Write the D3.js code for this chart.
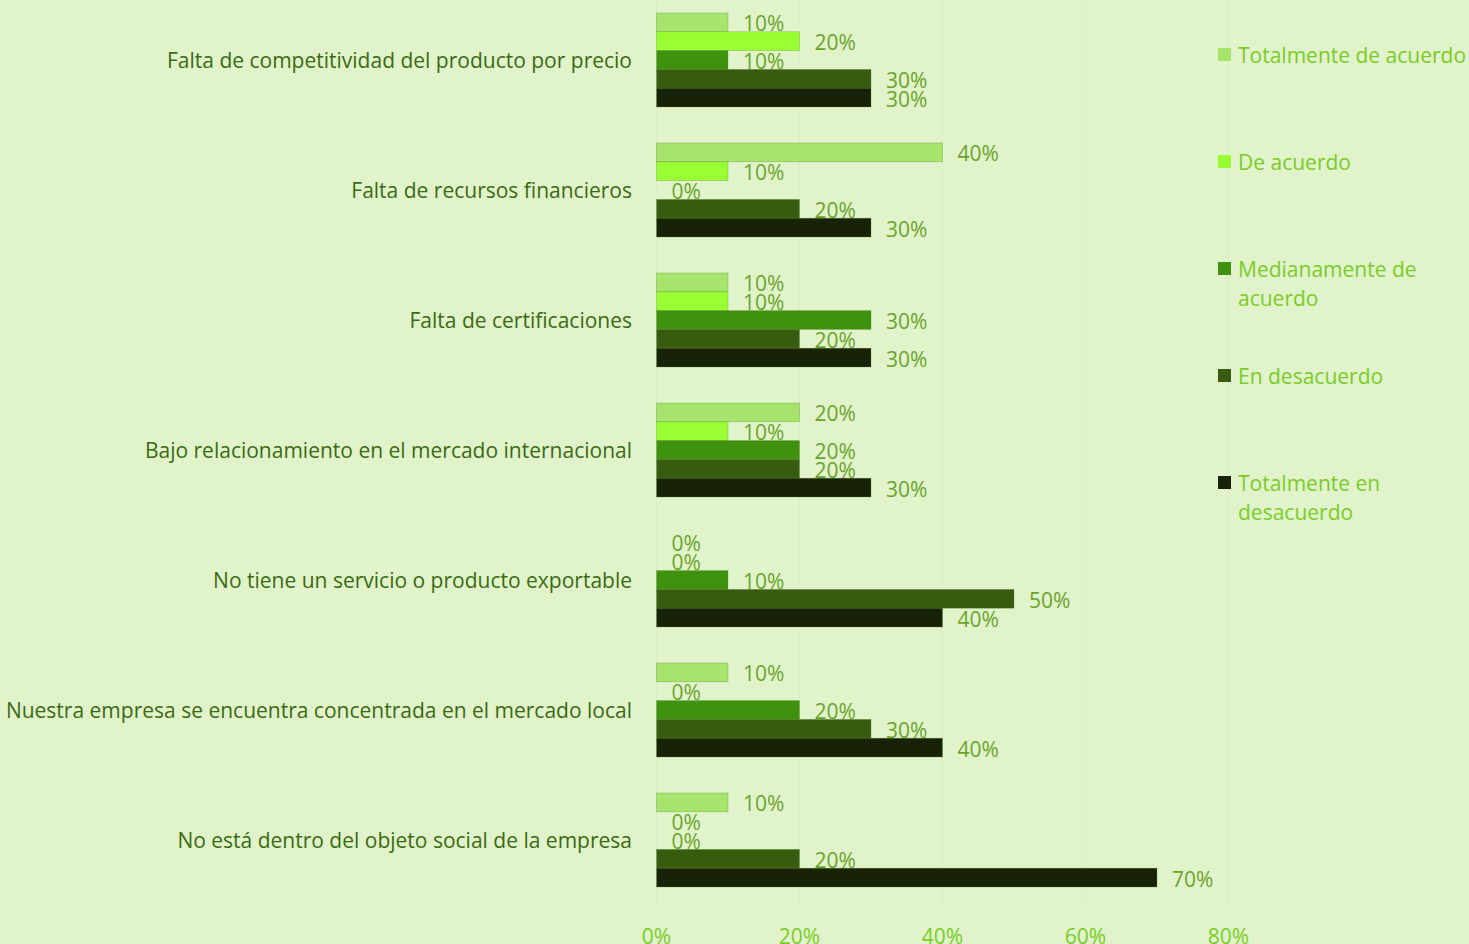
<!DOCTYPE html>
<html><head><meta charset="utf-8">
<script src="https://cdn.jsdelivr.net/npm/d3@7"></script>
<style>
html,body{margin:0;padding:0;background:#E0F3CA;}
svg{display:block;font-family:"Open Sans","Noto Sans",sans-serif;}
</style></head><body>
<svg id="chart" width="1469" height="944"></svg>
<script>
const categories = [
  "Falta de competitividad del producto por precio",
  "Falta de recursos financieros",
  "Falta de certificaciones",
  "Bajo relacionamiento en el mercado internacional",
  "No tiene un servicio o producto exportable",
  "Nuestra empresa se encuentra concentrada en el mercado local",
  "No está dentro del objeto social de la empresa"
];
const seriesNames = ["Totalmente de acuerdo","De acuerdo","Medianamente de acuerdo","En desacuerdo","Totalmente en desacuerdo"];
const legendLines = [["Totalmente de acuerdo"],["De acuerdo"],["Medianamente de","acuerdo"],["En desacuerdo"],["Totalmente en","desacuerdo"]];
const totalmenteDeAcuerdo = [10,40,10,20,0,10,10];
const deAcuerdo = [20,10,10,10,0,0,0];
const medianamenteDeAcuerdo = [10,0,30,20,10,20,0];
const enDesacuerdo = [30,20,20,20,50,30,20];
const totalmenteEnDesacuerdo = [30,30,30,30,40,40,70];
const seriesValues = [totalmenteDeAcuerdo,deAcuerdo,medianamenteDeAcuerdo,enDesacuerdo,totalmenteEnDesacuerdo];
const xTicks = [0,20,40,60,80];
const colors = ["#A6E46C","#99FF33","#3F920D","#375C10","#172206"];

const svg = d3.select("#chart");
const x = d3.scaleLinear().domain([0,80]).range([656.5,1228.5]);
const y = d3.scaleBand().domain(categories).range([-5,905]).paddingInner(0.277).paddingOuter(0.1385);
const ySub = d3.scaleBand().domain(seriesNames).range([0,y.bandwidth()]);

// gridlines
svg.append("g").selectAll("line").data(xTicks).join("line")
  .attr("x1",d=>x(d)).attr("x2",d=>x(d)).attr("y1",-5).attr("y2",905)
  .attr("stroke","#DAEEC4").attr("stroke-width",1);

const groups = svg.append("g").selectAll("g").data(categories).join("g")
  .attr("transform",c=>`translate(0,${y(c)})`);

groups.each(function(c,i){
  const g = d3.select(this);
  seriesNames.forEach((s,j)=>{
    const v = seriesValues[j][i];
    if(v>0){
      g.append("rect").attr("x",x(0)).attr("y",ySub(s)).attr("width",x(v)-x(0)).attr("height",ySub.bandwidth())
        .attr("fill",colors[j]).attr("stroke","#5A8A30").attr("stroke-width",0.6).attr("stroke-opacity",0.5);
    }
    g.append("text").attr("x",x(v)+15).attr("y",ySub(s)+ySub.bandwidth()/2+1)
      .attr("dominant-baseline","central").attr("font-size",21).attr("fill","#6AA52A")
      .text(v+"%");
  });
});

// category labels
svg.append("g").selectAll("text").data(categories).join("text")
  .attr("x",632).attr("y",c=>y(c)+y.bandwidth()/2).attr("text-anchor","end")
  .attr("dominant-baseline","central").attr("font-size",21).attr("fill","#3A6B12").text(c=>c);

// x axis labels
svg.append("g").selectAll("text").data(xTicks).join("text")
  .attr("x",d=>x(d)).attr("y",936).attr("text-anchor","middle").attr("dominant-baseline","central")
  .attr("font-size",21).attr("fill","#7ACC26").text(d=>d+"%");

// legend
const legendY = [55,162,269,376,483];
const lg = svg.append("g").selectAll("g").data(seriesNames).join("g")
  .attr("transform",(d,i)=>`translate(1218,${legendY[i]})`);
lg.append("rect").attr("x",0).attr("y",-7).attr("width",13).attr("height",13).attr("fill",(d,i)=>colors[i]);
lg.each(function(d,i){
  const t = d3.select(this).append("text").attr("x",20).attr("font-size",21).attr("fill","#7ACC26");
  legendLines[i].forEach((l,k)=>{
    t.append("tspan").attr("x",20).attr("y",k*29).attr("dominant-baseline","central").text(l);
  });
});
</script>
</body></html>
